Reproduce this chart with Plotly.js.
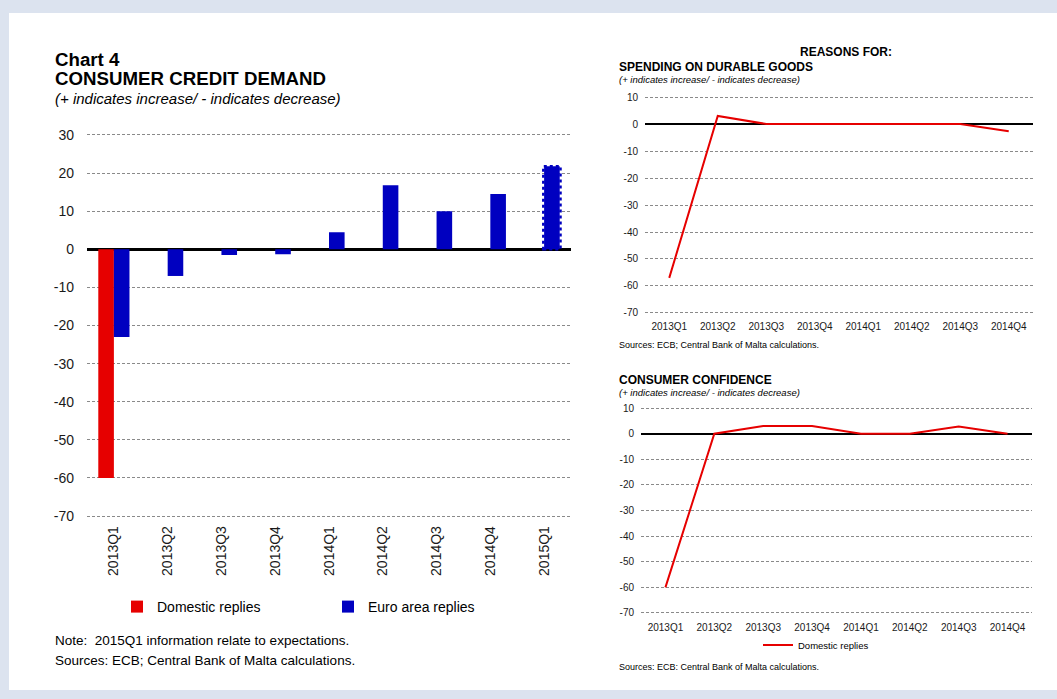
<!DOCTYPE html>
<html>
<head>
<meta charset="utf-8">
<script src="https://cdn.plot.ly/plotly-3.0.1.min.js"></script>
<style>
  html, body { margin: 0; padding: 0; background: #dce3ef; }
  #panel { position: absolute; left: 9px; top: 13px; width: 1048px; height: 677px; background: #ffffff; }
  #chart { position: absolute; left: 0; top: 0; width: 1057px; height: 699px; }
</style>
</head>
<body>
<div id="panel"></div>
<div id="chart"></div>
<script>
// ---- Data ----
const quarters9 = ['2013Q1','2013Q2','2013Q3','2013Q4','2014Q1','2014Q2','2014Q3','2014Q4','2015Q1'];
const domesticDemand = [-60, 0, 0, 0, 0, 0, 0, 0, 0];
const euroAreaDemand = [-23, -7, -1.5, -1.3, 4.5, 16.8, 10, 14.5, 21.8];

const quarters8 = ['2013Q1','2013Q2','2013Q3','2013Q4','2014Q1','2014Q2','2014Q3','2014Q4'];
const durableGoods = [-57, 3, 0, 0, 0, 0, 0, -2.7];
const consumerConfidence = [-60, 0, 3, 3, 0, 0, 2.8, 0];

const yTicksLeft = [-70, -60, -50, -40, -30, -20, -10, 0, 10, 20, 30];
const yTicksRight = [-70, -60, -50, -40, -30, -20, -10, 0, 10];

// ---- Layout helpers ----
const W = 1057, H = 699;
const px = v => v / W;
const py = v => 1 - v / H;
const FONT = 'Liberation Sans, Arial, sans-serif';
const RED = '#e60000';
const BLUE = '#0000c0';
const BARGAP = 0.42;
const EPS = 0.6; // small padding so the edge gridlines are kept

const traces = [
  { type: 'bar', name: 'Domestic replies', x: quarters9, y: domesticDemand,
    marker: { color: RED }, xaxis: 'x', yaxis: 'y', legend: 'legend', hoverinfo: 'x+y' },
  { type: 'bar', name: 'Euro area replies', x: quarters9, y: euroAreaDemand,
    marker: { color: BLUE }, xaxis: 'x', yaxis: 'y', legend: 'legend', hoverinfo: 'x+y' },
  { type: 'scatter', mode: 'lines', name: 'Domestic replies', x: quarters8, y: durableGoods,
    line: { color: RED, width: 2 }, xaxis: 'x2', yaxis: 'y2', showlegend: false },
  { type: 'scatter', mode: 'lines', name: 'Domestic replies', x: quarters8, y: consumerConfidence,
    line: { color: RED, width: 2 }, xaxis: 'x3', yaxis: 'y3', legend: 'legend2' }
];

// dotted outline for the expectation bar (last euro-area bar), derived from data
const lastIdx = quarters9.length - 1;
const barW = (1 - BARGAP) / 2;
const shapes = [{
  type: 'rect', xref: 'x', yref: 'y',
  x0: lastIdx - 0.015, x1: lastIdx + barW + 0.015,
  y0: 0, y1: euroAreaDemand[lastIdx],
  line: { color: BLUE, width: 2.5, dash: 'dot' }, fillcolor: 'rgba(0,0,0,0)'
}];

const gridStyle = { gridcolor: '#8a8a8a', gridwidth: 1, griddash: '3px,2px' };

function ann(text, x, y, size, opts) {
  return Object.assign({ text: text, xref: 'paper', yref: 'paper', x: px(x), y: py(y),
    xanchor: 'left', yanchor: 'middle', showarrow: false,
    font: { family: FONT, size: size, color: '#000' } }, opts || {});
}

const annotations = [
  ann('<b>Chart 4</b>', 53, 59, 18.7),
  ann('<b>CONSUMER CREDIT DEMAND</b>', 53, 79, 18.7),
  ann('<i>(+ indicates increase/ - indicates decrease)</i>', 53, 99, 15),
  ann('Note:  2015Q1 information relate to expectations.', 53, 640, 13.5),
  ann('Sources: ECB; Central Bank of Malta calculations.', 53, 660, 13.5),
  ann('<b>REASONS FOR:</b>', 846, 52.5, 12, { xanchor: 'center' }),
  ann('<b>SPENDING ON DURABLE GOODS</b>', 617, 66.5, 12),
  ann('<i>(+ indicates increase/ - indicates decrease)</i>', 617, 80, 9.5),
  ann('Sources: ECB; Central Bank of Malta calculations.', 617, 344.5, 9),
  ann('<b>CONSUMER CONFIDENCE</b>', 617, 380, 12),
  ann('<i>(+ indicates increase/ - indicates decrease)</i>', 617, 392, 9.5),
  ann('Sources: ECB: Central Bank of Malta calculations.', 617, 666.5, 9)
];

const layout = {
  width: W, height: H,
  margin: { l: 0, r: 0, t: 0, b: 0, pad: 0 },
  paper_bgcolor: 'rgba(0,0,0,0)',
  plot_bgcolor: 'rgba(0,0,0,0)',
  font: { family: FONT, color: '#1a1a1a' },
  barmode: 'group', bargap: BARGAP, bargroupgap: 0,
  showlegend: true,
  xaxis: {
    domain: [px(87), px(571)], anchor: 'y', type: 'category',
    range: [-0.5, quarters9.length - 0.5],
    tickangle: -90, tickfont: { family: FONT, size: 14, color: '#1a1a1a' },
    showgrid: false, showline: false, zeroline: false, ticks: '', ticklabelstandoff: 4,
    fixedrange: true
  },
  yaxis: Object.assign({
    domain: [py(518.3), py(132.7)], anchor: 'x', range: [-70 - EPS, 30 + EPS],
    tickvals: yTicksLeft, ticktext: yTicksLeft.map(String),
    tickfont: { family: FONT, size: 14, color: '#1a1a1a' },
    zeroline: true, zerolinecolor: '#000', zerolinewidth: 2.5,
    showline: false, ticks: '', ticklabelstandoff: 12, fixedrange: true
  }, gridStyle),
  xaxis2: {
    domain: [px(645), px(1033)], anchor: 'y2', type: 'category',
    range: [-0.5, quarters8.length - 0.5],
    tickfont: { family: FONT, size: 10, color: '#1a1a1a' },
    showgrid: false, showline: false, zeroline: false, ticks: '', ticklabelstandoff: 4,
    fixedrange: true
  },
  yaxis2: Object.assign({
    domain: [py(314.6), py(95.4)], anchor: 'x2', range: [-70 - EPS, 10 + EPS],
    tickvals: yTicksRight, ticktext: yTicksRight.map(String),
    tickfont: { family: FONT, size: 10, color: '#1a1a1a' },
    zeroline: true, zerolinecolor: '#000', zerolinewidth: 2,
    showline: false, ticks: '', ticklabelstandoff: 6, fixedrange: true
  }, gridStyle),
  xaxis3: {
    domain: [px(641), px(1032)], anchor: 'y3', type: 'category',
    range: [-0.5, quarters8.length - 0.5],
    tickfont: { family: FONT, size: 10, color: '#1a1a1a' },
    showgrid: false, showline: false, zeroline: false, ticks: '', ticklabelstandoff: 5,
    fixedrange: true
  },
  yaxis3: Object.assign({
    domain: [py(614.5), py(406.5)], anchor: 'x3', range: [-70 - EPS, 10 + EPS],
    tickvals: yTicksRight, ticktext: yTicksRight.map(String),
    tickfont: { family: FONT, size: 10, color: '#1a1a1a' },
    zeroline: true, zerolinecolor: '#000', zerolinewidth: 2,
    showline: false, ticks: '', ticklabelstandoff: 6, fixedrange: true
  }, gridStyle),
  legend: {
    orientation: 'h', x: px(117), y: py(607), xanchor: 'left', yanchor: 'middle',
    font: { family: FONT, size: 14, color: '#000' },
    bgcolor: 'rgba(0,0,0,0)', entrywidth: 166, entrywidthmode: 'pixels',
    traceorder: 'normal', itemclick: false, itemdoubleclick: false
  },
  legend2: {
    orientation: 'h', x: px(758), y: py(645), xanchor: 'left', yanchor: 'middle',
    font: { family: FONT, size: 9.5, color: '#000' },
    bgcolor: 'rgba(0,0,0,0)', itemclick: false, itemdoubleclick: false
  },
  shapes: shapes,
  annotations: annotations
};

Plotly.newPlot('chart', traces, layout, { displayModeBar: false, staticPlot: true });
</script>
</body>
</html>
